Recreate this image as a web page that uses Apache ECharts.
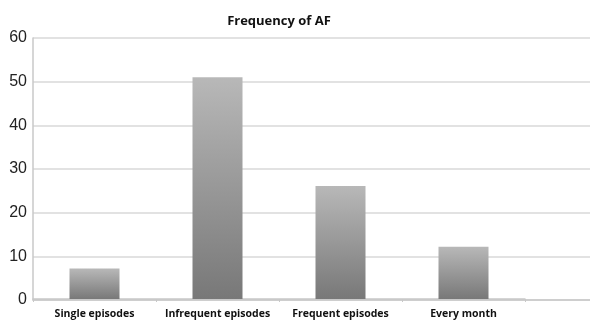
<!DOCTYPE html>
<html>
<head>
<meta charset="utf-8">
<script src="https://cdn.jsdelivr.net/npm/echarts@6/dist/echarts.min.js"></script>
<style>
  html, body { margin: 0; padding: 0; background: #fff; }
  #chart { width: 590px; height: 320px; }
</style>
</head>
<body>
<div id="chart"></div>
<script>
// Frequency of AF: number of patients per category
const categories = ['Single episodes', 'Infrequent episodes', 'Frequent episodes', 'Every month'];
const counts = [7, 51, 26, 12];
const yTicks = [0, 10, 20, 30, 40, 50, 60];

const chart = echarts.init(document.getElementById('chart'), null, { renderer: 'canvas' });

const barFill = new echarts.graphic.LinearGradient(0, 0, 0, 1, [
  { offset: 0, color: '#b8b8b8' },
  { offset: 1, color: '#787878' }
]);

const lineGray = { color: '#c8c8c8', width: 1.5 };

chart.setOption({
  animation: false,
  backgroundColor: '#ffffff',
  title: {
    text: 'Frequency of AF',
    left: 274,
    textAlign: 'center',
    top: 10,
    textStyle: { fontFamily: 'Open Sans', fontWeight: 'bold', fontSize: 13, color: '#111' }
  },
  grid: [
    // full-width grid that carries the value axis and its grid lines
    { left: 33, right: 0, top: 38, bottom: 20 },
    // category grid for the bars
    { left: 33, width: 492, top: 38, bottom: 20 }
  ],
  xAxis: [
    {
      gridIndex: 0, type: 'value', min: 0, max: 1,
      axisLine: { show: true, lineStyle: lineGray },
      axisTick: { show: false },
      axisLabel: { show: false },
      splitLine: { show: false }
    },
    {
      gridIndex: 1,
      type: 'category',
      data: categories,
      axisLine: { show: true, lineStyle: lineGray },
      axisTick: { show: true, length: 3, lineStyle: { color: '#c8c8c8' } },
      axisLabel: {
        interval: 0,
        fontFamily: 'Open Sans', fontWeight: 'bold', fontSize: 10.5, color: '#111', margin: 10
      }
    }
  ],
  yAxis: [
    {
      gridIndex: 0,
      type: 'value',
      min: yTicks[0],
      max: yTicks[yTicks.length - 1],
      interval: yTicks[1] - yTicks[0],
      axisLine: { show: true, lineStyle: lineGray },
      axisTick: { show: false },
      splitLine: { show: true, lineStyle: { color: '#d8d8d8', width: 1.5 } },
      axisLabel: {
        fontFamily: 'Liberation Sans', fontSize: 16, color: '#222', margin: 6
      }
    },
    {
      gridIndex: 1,
      type: 'value',
      min: yTicks[0],
      max: yTicks[yTicks.length - 1],
      show: false
    }
  ],
  series: [
    {
      type: 'bar',
      xAxisIndex: 1,
      yAxisIndex: 1,
      data: counts,
      barWidth: 50,
      itemStyle: { color: barFill }
    }
  ]
});
</script>
</body>
</html>
